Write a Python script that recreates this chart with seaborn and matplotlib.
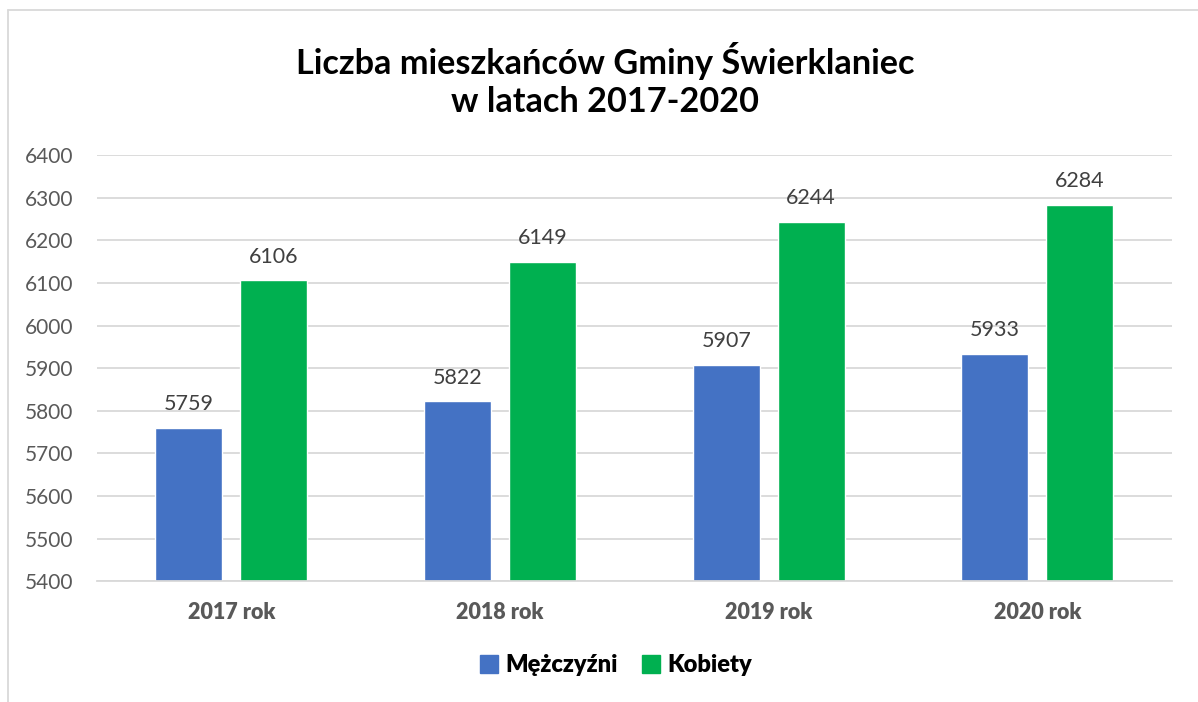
import matplotlib
matplotlib.use("Agg")
import matplotlib.pyplot as plt
import seaborn as sns
import pandas as pd
from matplotlib.lines import Line2D

years = ["2017 rok", "2018 rok", "2019 rok", "2020 rok"]
men = [5759, 5822, 5907, 5933]
women = [6106, 6149, 6244, 6284]
series_names = ["Mężczyźni", "Kobiety"]
colors = ["#4472C4", "#00B050"]

data = pd.DataFrame({
    "rok": years * 2,
    "liczba": men + women,
    "plec": [series_names[0]] * 4 + [series_names[1]] * 4,
})

sns.set_theme(style="white")
plt.rcParams["font.family"] = ["Lato", "DejaVu Sans"]

fig = plt.figure(figsize=(11.98, 7.02), dpi=100)
ax = fig.add_axes([0.081, 0.172, 0.897, 0.607])

sns.barplot(data=data, x="rok", y="liczba", hue="plec", palette=colors,
            saturation=1, width=0.632, gap=0.21, ax=ax, legend=False)

ax.set_ylim(5400, 6400)
ax.set_yticks(range(5400, 6401, 100))
ax.yaxis.grid(True, color="#D9D9D9", linewidth=1.3)
ax.set_axisbelow(True)
for s in ax.spines.values():
    s.set_visible(False)
ax.spines["bottom"].set_visible(True)
ax.spines["bottom"].set_color("#D9D9D9")
ax.spines["bottom"].set_linewidth(1.3)
ax.set_xlabel("")
ax.set_ylabel("")
ax.tick_params(axis="y", labelsize=15, labelcolor="#595959", length=0, pad=17)
ax.tick_params(axis="x", length=0, pad=15)
ax.set_xticks(range(len(years)))
ax.set_xticklabels(years, fontsize=15.5, fontweight="heavy", color="#595959")

for cont in ax.containers:
    ax.bar_label(cont, fmt="%d", padding=10, fontsize=15.5, color="#404040")

fig.text(0.505, 0.886, "Liczba mieszkańców Gminy Świerklaniec\nw latach 2017-2020",
         ha="center", va="center", fontsize=24.7, fontweight="bold",
         linespacing=1.2, color="black")

handles = [Line2D([], [], marker="s", linestyle="", markersize=13,
                  markerfacecolor=c, markeredgecolor=c) for c in colors]
fig.legend(handles, series_names, loc="center", bbox_to_anchor=(0.514, 0.052),
           ncol=2, frameon=False, handlelength=0.8, handletextpad=0.3,
           columnspacing=1.0, labelcolor="black",
           prop={"size": 17, "weight": "heavy"})

fig.add_artist(Line2D([8 / 1198, 8 / 1198], [0, 1 - 10 / 702],
                      transform=fig.transFigure, color="#D9D9D9", linewidth=1.3))
fig.add_artist(Line2D([8 / 1198, 1], [1 - 10 / 702, 1 - 10 / 702],
                      transform=fig.transFigure, color="#D9D9D9", linewidth=1.3))

fig.savefig("out.png", dpi=100)
